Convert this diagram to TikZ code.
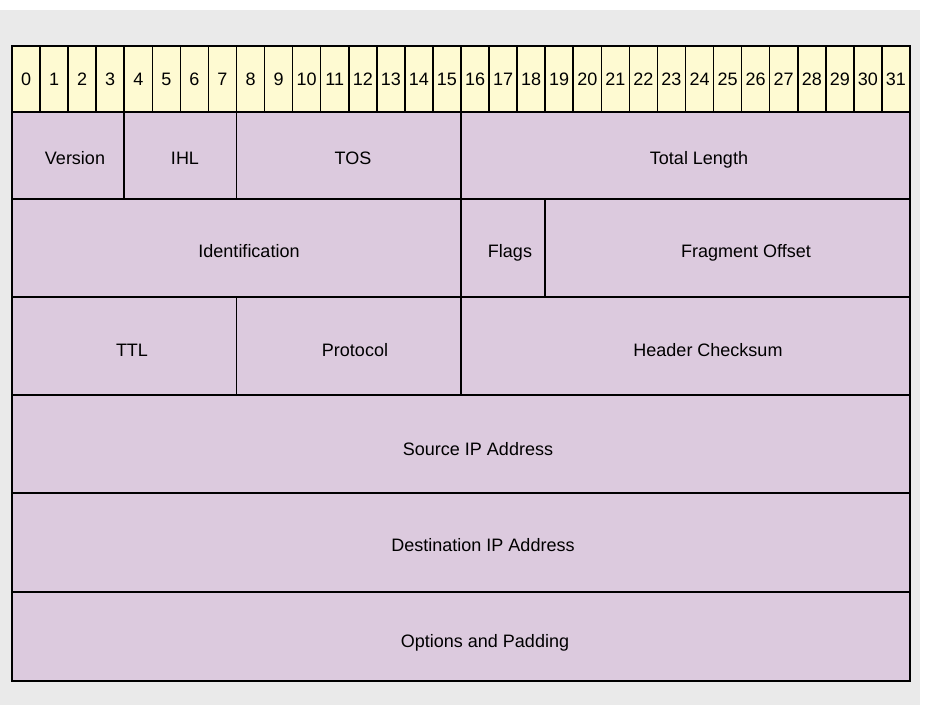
\documentclass[tikz,border=0pt]{standalone}
\usepackage{fontspec}
\setmainfont{Liberation Sans}
\definecolor{pagegray}{HTML}{EAEAEA}
\definecolor{bitfill}{HTML}{FEFAD2}
\definecolor{fieldfill}{HTML}{DCCADE}
\tikzset{
  grid line/.style={line width=1.6pt, draw=black},
  outer line/.style={line width=2pt, draw=black},
  lbl/.style={inner sep=0pt, text height=12.9pt, text depth=0pt,
              font=\fontsize{18}{20}\selectfont},
}
\begin{document}
\begin{tikzpicture}[x=1pt, y=-1pt]
  % canvas
  \useasboundingbox (0,0) rectangle (927,705);
  \fill[pagegray] (0,10) rectangle (920,705);

  % geometry of the header table
  \def\xl{12}
  \def\xr{910}
  \def\bw{28.0625}
  \def\ytop{46}
  \def\yh{112}
  \def\ya{199}
  \def\yb{297}
  \def\yc{395}
  \def\yd{493}
  \def\ye{592}
  \def\ybot{681}

  % fills
  \fill[bitfill] (\xl,\ytop) rectangle (\xr,\yh);
  \fill[fieldfill] (\xl,\yh) rectangle (\xr,\ybot);

  % bit-number cells 0..31
  \foreach \b in {0,...,31} {
    \pgfmathsetmacro{\cx}{\xl+(\b+0.5)*\bw}
    \node[lbl] (bit\b) at (\cx,79) {\b};
  }
  \foreach \b in {1,...,31} {
    \pgfmathsetmacro{\vx}{\xl+\b*\bw}
    \draw[grid line] (\vx,\ytop) -- (\vx,\yh);
  }

  % row separators
  \foreach \yy in {\yh,\ya,\yb,\yc,\yd,\ye}
    \draw[grid line] (\xl,\yy) -- (\xr,\yy);

  % field separators: bit position, upper and lower edge
  \foreach \b/\ptop/\pbot in {4/\yh/\ya, 8/\yh/\ya, 16/\yh/\ya,
                              16/\ya/\yb, 19/\ya/\yb,
                              8/\yb/\yc, 16/\yb/\yc} {
    \pgfmathsetmacro{\vx}{\xl+\b*\bw}
    \draw[grid line] (\vx,\ptop) -- (\vx,\pbot);
  }

  % outer frame
  \draw[outer line] (\xl,\ytop) rectangle (\xr,\ybot);

  % field labels
  \node[lbl] (version)  at (75,158)  {Version};
  \node[lbl] (ihl)      at (185,158) {IHL};
  \node[lbl] (tos)      at (353,158) {TOS};
  \node[lbl] (totlen)   at (699,158) {Total Length};
  \node[lbl] (ident)    at (249,251) {Identification};
  \node[lbl] (flags)    at (510,251) {Flags};
  \node[lbl] (fragoff)  at (746,251) {Fragment Offset};
  \node[lbl] (ttl)      at (132,350) {TTL};
  \node[lbl] (proto)    at (355,350) {Protocol};
  \node[lbl] (checksum) at (708,350) {Header Checksum};
  \node[lbl] (srcip)    at (478,449) {Source IP Address};
  \node[lbl] (dstip)    at (483,545) {Destination IP Address};
  \node[lbl] (options)  at (485,641) {Options and Padding};
\end{tikzpicture}
\end{document}
